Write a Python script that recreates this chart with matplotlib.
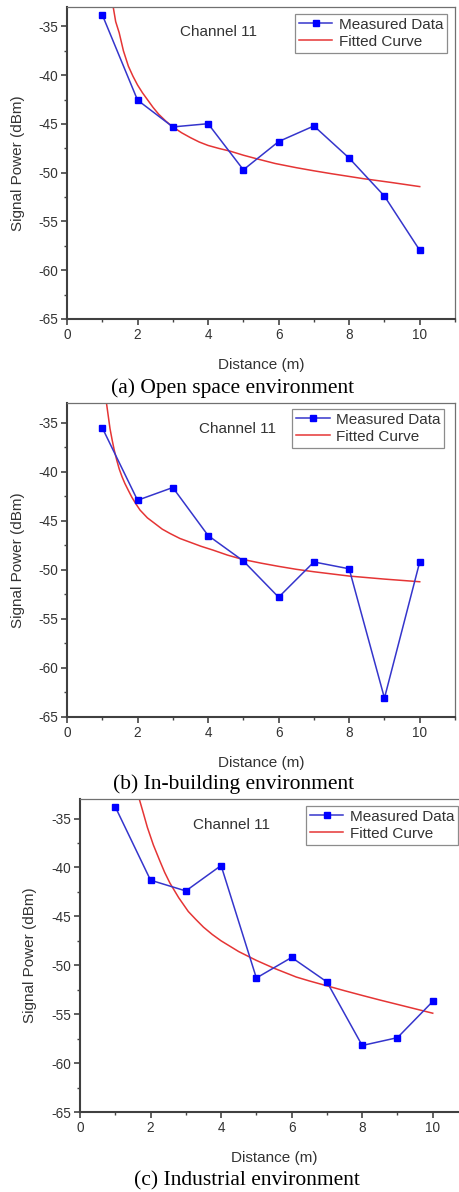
import numpy as np
import matplotlib
matplotlib.use("Agg")
import matplotlib.pyplot as plt
from matplotlib.ticker import MultipleLocator

plt.rcParams.update({
    'font.family': ['Liberation Sans', 'DejaVu Sans'],
    'font.size': 10,
    'axes.unicode_minus': False,
})

# Measured data (distance in m, signal power in dBm)
distance = [1, 2, 3, 4, 5, 6, 7, 8, 9, 10]
open_space = [-33.8, -42.55, -45.3, -44.97, -49.7, -46.8, -45.2, -48.5, -52.4, -57.95]
in_building = [-35.5, -42.9, -41.6, -46.5, -49.1, -52.8, -49.2, -49.9, -63.1, -49.2]
industrial = [-33.8, -41.3, -42.4, -39.8, -51.3, -49.2, -51.7, -58.2, -57.4, -53.7]

# Fitted curves
fit_a_d = [1.31, 1.38, 1.48, 1.6, 1.74, 1.87, 2.0, 2.14, 2.28, 2.44, 2.6, 2.8, 3.0, 3.25, 3.5,
           3.75, 4.0, 4.3, 4.62, 5.0, 5.37, 5.9, 6.5, 7.0, 7.5, 8.0, 8.39, 9.2, 10]
fit_a_p = [-33.0, -34.5, -35.65, -37.5, -39.07, -40.1, -41.0, -41.8, -42.5, -43.3, -44.0, -44.7,
           -45.3, -45.9, -46.4, -46.85, -47.2, -47.5, -47.78, -48.2, -48.56, -49.05, -49.48,
           -49.8, -50.1, -50.38, -50.6, -51.0, -51.42]
fit_b_d = [1.12, 1.17, 1.22, 1.28, 1.34, 1.41, 1.48, 1.56, 1.64, 1.74, 1.84, 1.95, 2.07, 2.28,
           2.5, 2.7, 2.92, 3.2, 3.5, 3.8, 4.14, 4.55, 4.98, 5.5, 6.0, 6.5, 7.0, 8.0, 9.0, 10]
fit_b_p = [-33.0, -34.3, -35.6, -36.75, -37.79, -38.8, -39.7, -40.5, -41.18, -41.9, -42.6, -43.25,
           -43.9, -44.7, -45.3, -45.85, -46.29, -46.8, -47.2, -47.6, -47.99, -48.5, -48.94,
           -49.32, -49.65, -49.95, -50.2, -50.64, -50.95, -51.22]
fit_c_d = [1.68, 1.8, 1.91, 2.08, 2.26, 2.4, 2.55, 2.8, 3.07, 3.28, 3.5, 3.75, 4.0, 4.25, 4.5,
           4.75, 5.0, 5.5, 6.13, 6.5, 7.0, 7.5, 8.02, 8.5, 9.0, 9.5, 10]
fit_c_p = [-33.0, -34.5, -35.9, -37.7, -39.3, -40.5, -41.6, -43.1, -44.5, -45.3, -46.1, -46.85,
           -47.5, -48.05, -48.6, -49.05, -49.5, -50.3, -51.2, -51.6, -52.1, -52.6, -53.1,
           -53.55, -54.0, -54.45, -54.9]

captions = ['(a) Open space environment', '(b) In-building environment', '(c) Industrial environment']

W, H = 460, 1192
fig = plt.figure(figsize=(W / 100, H / 100), dpi=100)

# axes boxes in pixels: left, top, right, bottom
boxes = [(67, 7, 455, 319), (67, 403.3, 455, 716.7), (80, 799, 468, 1112)]
legend_anchor = [(0.979, 0.978), (0.972, 0.982), (0.974, 0.978)]
channel_pos = [(3.2, -35.6), (3.74, -35.65), (3.2, -35.64)]
caption_pos = [(233, 388), (234, 784), (247, 1181)]
ylabel_x = [-0.108, -0.108, -0.111]
measured = [open_space, in_building, industrial]
fits = [(fit_a_d, fit_a_p), (fit_b_d, fit_b_p), (fit_c_d, fit_c_p)]

text_col = '#333333'

for i in range(3):
    l, t, r, b = boxes[i]
    ax = fig.add_axes([l / W, 1 - b / H, (r - l) / W, (b - t) / H])

    ax.plot(distance, measured[i], color='#3535cc', lw=1.1, marker='s', ms=4.5,
            mfc='#0000ff', mec='#0000ff', label='Measured Data', zorder=3)
    ax.plot(fits[i][0], fits[i][1], color='#e53535', lw=1.1, label='Fitted Curve', zorder=2)

    ax.set_xlim(0, 11)
    ax.set_ylim(-65, -33)
    ax.xaxis.set_major_locator(MultipleLocator(2))
    ax.xaxis.set_minor_locator(MultipleLocator(1))
    ax.yaxis.set_major_locator(MultipleLocator(5))
    ax.yaxis.set_minor_locator(MultipleLocator(2.5))
    ax.tick_params(which='major', direction='out', length=4, width=1.2, colors='#444444',
                   labelsize=9.8, labelcolor=text_col, pad=2.5)
    ax.tick_params(which='minor', direction='out', length=2.5, width=1.0, colors='#444444')
    ax.tick_params(top=False, right=False, which='both')

    for side in ['left', 'bottom']:
        ax.spines[side].set_linewidth(1.5)
        ax.spines[side].set_color('#404040')
    for side in ['top', 'right']:
        ax.spines[side].set_linewidth(0.9)
        ax.spines[side].set_color('#707070')

    ax.set_xlabel('Distance (m)', fontsize=11, color=text_col)
    ax.set_ylabel('Signal Power (dBm)', fontsize=11, color=text_col)
    ax.xaxis.set_label_coords(0.5, -0.125)
    ax.yaxis.set_label_coords(ylabel_x[i], 0.5)

    ax.text(channel_pos[i][0], channel_pos[i][1], 'Channel 11', fontsize=11,
            color=text_col, va='center', ha='left')

    leg = ax.legend(loc='upper right', bbox_to_anchor=legend_anchor[i], fontsize=11,
                    frameon=True, fancybox=False, edgecolor='#707070', handlelength=2.2,
                    borderpad=0.25, labelspacing=0.2, handletextpad=0.4, borderaxespad=0)
    leg.get_frame().set_linewidth(0.9)
    for txt in leg.get_texts():
        txt.set_color(text_col)

    fig.text(caption_pos[i][0] / W, 1 - caption_pos[i][1] / H, captions[i],
             fontsize=15.5, family=['Liberation Serif', 'DejaVu Serif'],
             ha='center', va='center', color='black')

fig.savefig('out.png', dpi=100)
